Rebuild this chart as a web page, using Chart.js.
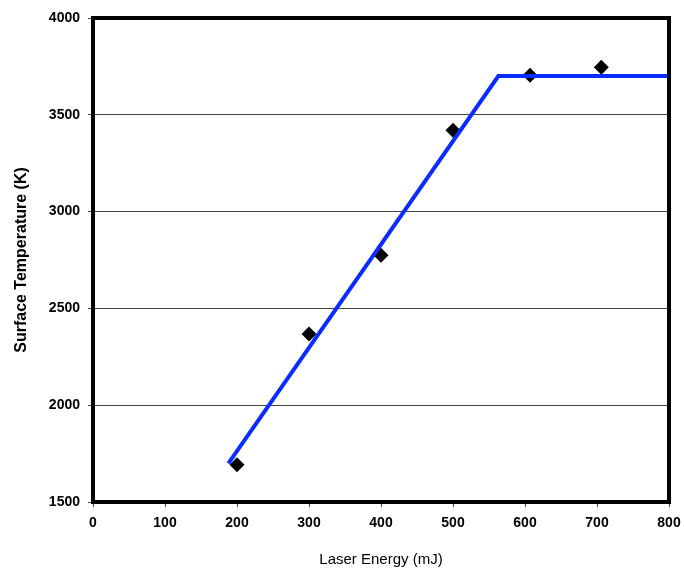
<!DOCTYPE html>
<html>
<head>
<meta charset="utf-8">
<script src="https://cdn.jsdelivr.net/npm/chart.js@4/dist/chart.umd.min.js"></script>
<style>
  html, body { margin: 0; padding: 0; background: #fff; }
  #wrap { width: 684px; height: 573px; }
</style>
</head>
<body>
<div id="wrap"><canvas id="chart"></canvas></div>
<script>
'use strict';

// measured points (laser energy mJ, surface temperature K)
const ENERGY = [200, 300, 400, 500, 607, 706];
const TEMP   = [1693, 2368, 2775, 3420, 3704, 3746];

// fitted trend line: rising branch then plateau
const FIT_X = [188, 563, 800];
const FIT_Y = [1700, 3700, 3700];

const X_TITLE = 'Laser Energy (mJ)';
const Y_TITLE = 'Surface Temperature (K)';

const FONT = '"Liberation Sans", Arial, sans-serif';

// thick black box round the plot area
const frame = {
    id: 'frame',
    afterDatasetsDraw(chart) {
        const { ctx, chartArea: a } = chart;
        ctx.save();
        ctx.strokeStyle = '#000';
        ctx.lineWidth = 4;
        ctx.strokeRect(a.left, a.top, a.right - a.left, a.bottom - a.top);
        ctx.restore();
    }
};

new Chart(document.getElementById('chart'), {
    type: 'scatter',
    data: {
        datasets: [
            {
                data: FIT_X.map((x, i) => ({ x, y: FIT_Y[i] })),
                showLine: true,
                borderColor: '#0a2cff',
                borderWidth: 4,
                pointRadius: 0,
                order: 0,
            },
            {
                data: ENERGY.map((x, i) => ({ x, y: TEMP[i] })),
                pointStyle: 'rectRot',
                pointRadius: 7.5,
                pointBackgroundColor: '#000',
                pointBorderWidth: 0,
                order: 1,
            },
        ]
    },
    options: {
        responsive: true,
        maintainAspectRatio: false,
        animation: false,
        layout: { padding: { top: 18, right: 15, left: 0, bottom: 0 } },
        plugins: { legend: { display: false }, tooltip: { enabled: false } },
        scales: {
            x: {
                type: 'linear',
                min: 0, max: 800,
                afterFit(s) { s.height = 71; s.paddingLeft = 0; s.paddingRight = 0; },
                ticks: { stepSize: 100, color: '#000', padding: 8,
                         callback: v => String(v),
                         font: { family: FONT, size: 14, weight: 'bold' } },
                grid: { drawOnChartArea: false, tickLength: 5, tickColor: '#444' },
                border: { display: false },
                title: { display: true, text: X_TITLE, color: '#000', padding: { top: 15 },
                         font: { family: FONT, size: 15 } },
            },
            y: {
                min: 1500, max: 4000,
                afterFit(s) { s.width = 93; },
                ticks: { stepSize: 500, color: '#000', padding: 8,
                         callback: v => String(v),
                         font: { family: FONT, size: 14, weight: 'bold' } },
                grid: { color: '#444', lineWidth: 1, tickLength: 5, tickColor: '#444' },
                border: { display: false },
                title: { display: true, text: Y_TITLE, color: '#000', padding: { top: 12, bottom: 4 },
                         font: { family: FONT, size: 16, weight: 'bold' } },
            }
        }
    },
    plugins: [frame]
});
</script>
</body>
</html>
